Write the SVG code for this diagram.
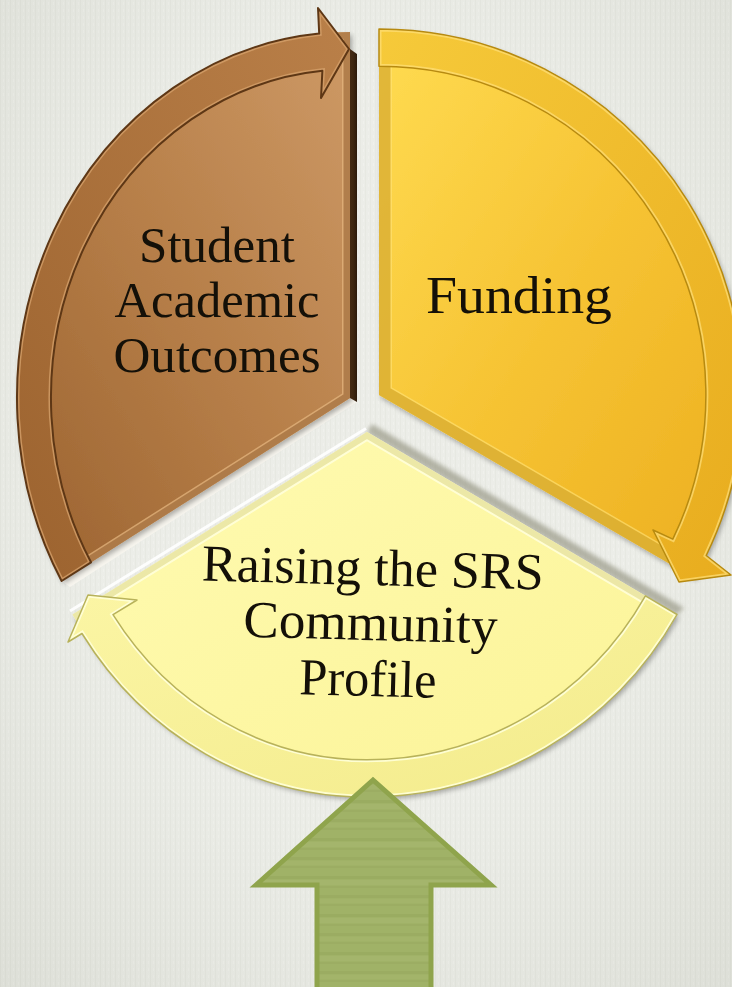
<svg xmlns="http://www.w3.org/2000/svg" width="732" height="987" viewBox="0 0 732 987">
<defs>
<style>
.lbl{font-family:"Liberation Serif","DejaVu Serif",serif;fill:#141008;text-anchor:middle}
.bandline{fill:none;stroke-linejoin:round}
</style>
<pattern id="bgTex" width="5" height="7" patternUnits="userSpaceOnUse">
<rect width="5" height="7" fill="#E7E9E2"/>
<rect x="0" width="1" height="7" fill="#E1E3DB"/>
<rect x="3" y="2" width="1" height="3" fill="#ECEDE7"/>
</pattern>
<radialGradient id="vig" cx="0.5" cy="0.45" r="0.75">
<stop offset="0.5" stop-color="#FFFFFF" stop-opacity="0.2"/>
<stop offset="1" stop-color="#B8BAB0" stop-opacity="0.22"/>
</radialGradient>
<pattern id="grTex" width="40" height="38" patternUnits="userSpaceOnUse">
<rect width="40" height="38" fill="#A0B267"/>
<rect y="2" width="40" height="3" fill="#8E9F56" opacity="0.35"/>
<rect y="12" width="40" height="2" fill="#8E9F56" opacity="0.25"/>
<rect y="21" width="40" height="3" fill="#8E9F56" opacity="0.3"/>
<rect y="30" width="40" height="2" fill="#8E9F56" opacity="0.25"/>
<rect y="6" width="40" height="5" fill="#B0C07A" opacity="0.25"/>
<rect y="25" width="40" height="4" fill="#B0C07A" opacity="0.2"/>
</pattern>
<linearGradient id="brBody" x1="1" y1="0" x2="0" y2="1">
<stop offset="0" stop-color="#CE9A66"/>
<stop offset="0.5" stop-color="#B67E48"/>
<stop offset="1" stop-color="#9A622F"/>
</linearGradient>
<linearGradient id="brBand" x1="1" y1="0" x2="0" y2="1">
<stop offset="0" stop-color="#BA8049"/>
<stop offset="1" stop-color="#9C632F"/>
</linearGradient>
<linearGradient id="brSide" x1="0" y1="0" x2="1" y2="0">
<stop offset="0" stop-color="#5A391B"/>
<stop offset="1" stop-color="#2B1A0B"/>
</linearGradient>
<linearGradient id="gdBody" x1="0" y1="0" x2="1" y2="1">
<stop offset="0" stop-color="#FFDC52"/>
<stop offset="0.5" stop-color="#F6C333"/>
<stop offset="1" stop-color="#ECAE1F"/>
</linearGradient>
<linearGradient id="gdBand" x1="0" y1="0" x2="1" y2="1">
<stop offset="0" stop-color="#F6CA3A"/>
<stop offset="1" stop-color="#E8AC1E"/>
</linearGradient>
<linearGradient id="ylBody" x1="0" y1="0" x2="1" y2="1">
<stop offset="0" stop-color="#FFFBB2"/>
<stop offset="1" stop-color="#FBF396"/>
</linearGradient>
<linearGradient id="ylBand" x1="0" y1="0" x2="1" y2="1">
<stop offset="0" stop-color="#FBF5A4"/>
<stop offset="1" stop-color="#F3EB8B"/>
</linearGradient>
<filter id="sh" x="-10%" y="-10%" width="125%" height="125%">
<feGaussianBlur in="SourceAlpha" stdDeviation="2.5"/>
<feOffset dx="2" dy="3"/>
<feComponentTransfer><feFuncA type="linear" slope="0.3"/></feComponentTransfer>
<feMerge><feMergeNode/><feMergeNode in="SourceGraphic"/></feMerge>
</filter>
<filter id="blur2" x="-10%" y="-10%" width="120%" height="120%"><feGaussianBlur stdDeviation="2"/></filter>
<clipPath id="cBr"><path d="M350 398 L350 32 A333 366 0 0 0 61.6 581 Z"/></clipPath>
<clipPath id="cGd"><path d="M379 395 L379 29 A364 366 0 0 1 694.2 578 Z"/></clipPath>
<clipPath id="cYl"><path d="M367 432 L677 614.5 A358 365 0 0 1 367 797 A340 365 0 0 1 72.6 614.5 Z"/></clipPath>
<clipPath id="cBrB"><path d="M61.6 581 A333 366 0 0 1 319.2 33.6 L318 8 L349 49 L321 98 L322.4 70.7 A299 328.7 0 0 0 91 562.3 Z"/></clipPath>
<clipPath id="cGdB"><path d="M379 29 A364 366 0 0 1 706.2 555.5 L731 575 L679 582 L653 530 L672.8 539.1 A326.9 328.7 0 0 0 379 66.3 Z"/></clipPath>
<clipPath id="cYlB"><path d="M677 614.5 A358 365 0 0 1 367 797 A340 365 0 0 1 82 633.5 L68 642 L88 595 L137 600 L113 614.7 A305.3 327.8 0 0 0 367 759.8 A321.5 327.8 0 0 0 645.4 595.9 Z"/></clipPath>
</defs>

<rect width="732" height="987" fill="url(#bgTex)"/>
<rect width="732" height="987" fill="url(#vig)"/>

<g id="segment-outcomes">
<polygon points="61.6,581 350,398 357,402 70,587" fill="#F7F5EE"/>
<polygon points="350,49 357,54 357,402 350,398" fill="url(#brSide)"/>
<path d="M350 398 L350 32 A333 366 0 0 0 61.6 581 Z" fill="url(#brBody)" filter="url(#sh)"/>
<g clip-path="url(#cBr)">
<path d="M350 398 L350 32 A333 366 0 0 0 61.6 581 Z" fill="none" stroke="#E3B47E" stroke-width="16" opacity="0.75"/>
<path d="M350 398 L350 32 A333 366 0 0 0 61.6 581 Z" fill="none" stroke="#8E5A2A" stroke-width="13" opacity="0.55"/>
</g>
<text class="lbl" font-size="50" x="217" y="262" textLength="156" lengthAdjust="spacingAndGlyphs">Student</text>
<text class="lbl" font-size="50" x="217" y="317" textLength="205" lengthAdjust="spacingAndGlyphs">Academic</text>
<text class="lbl" font-size="50" x="217" y="372" textLength="207" lengthAdjust="spacingAndGlyphs">Outcomes</text>
</g>

<g id="segment-funding">
<path d="M379 395 L379 29 A364 366 0 0 1 694.2 578 Z" fill="url(#gdBody)" filter="url(#sh)"/>
<g clip-path="url(#cGd)">
<path d="M379 395 L379 29 A364 366 0 0 1 694.2 578 Z" fill="none" stroke="#FFE27A" stroke-width="26" opacity="0.6"/>
<path d="M379 395 L379 29 A364 366 0 0 1 694.2 578 Z" fill="none" stroke="#C99612" stroke-width="23" opacity="0.55"/>
</g>
<text class="lbl" font-size="53" x="519" y="313" textLength="186" lengthAdjust="spacingAndGlyphs">Funding</text>
</g>

<g id="segment-profile">
<polygon points="372,424 684,608 677,614.5 367,432" fill="#9A9A88" opacity="0.7" filter="url(#blur2)"/>
<polyline points="70,611 366,428.5" fill="none" stroke="#FFFFFF" stroke-width="3" opacity="0.9"/>
<path d="M367 432 L677 614.5 A358 365 0 0 1 367 797 A340 365 0 0 1 72.6 614.5 Z" fill="url(#ylBody)" filter="url(#sh)"/>
<g clip-path="url(#cYl)">
<path d="M367 432 L677 614.5 A358 365 0 0 1 367 797 A340 365 0 0 1 72.6 614.5 Z" fill="none" stroke="#FFFFE0" stroke-width="16" opacity="0.8"/>
<path d="M367 432 L677 614.5 A358 365 0 0 1 367 797 A340 365 0 0 1 72.6 614.5 Z" fill="none" stroke="#D9D27A" stroke-width="12" opacity="0.5"/>
</g>
<g transform="rotate(1.5 370 640)">
<text class="lbl" font-size="52" x="371" y="585" textLength="342" lengthAdjust="spacingAndGlyphs">Raising the SRS</text>
<text class="lbl" font-size="52" x="370" y="640" textLength="254" lengthAdjust="spacingAndGlyphs">Community</text>
<text class="lbl" font-size="52" x="369" y="696" textLength="137" lengthAdjust="spacingAndGlyphs">Profile</text>
</g>
</g>

<g id="connectors">
<path d="M61.6 581 A333 366 0 0 1 319.2 33.6 L318 8 L349 49 L321 98 L322.4 70.7 A299 328.7 0 0 0 91 562.3 Z" fill="url(#brBand)"/>
<g clip-path="url(#cBrB)"><path d="M61.6 581 A333 366 0 0 1 319.2 33.6 L318 8 L349 49 L321 98 L322.4 70.7 A299 328.7 0 0 0 91 562.3 Z" fill="none" stroke="#D4A06A" stroke-width="5" opacity="0.8"/></g>
<path class="bandline" d="M61.6 581 A333 366 0 0 1 319.2 33.6 L318 8 L349 49 L321 98 L322.4 70.7 A299 328.7 0 0 0 91 562.3 Z" stroke="#5E3715" stroke-width="2"/>

<path d="M379 29 A364 366 0 0 1 706.2 555.5 L731 575 L679 582 L653 530 L672.8 539.1 A326.9 328.7 0 0 0 379 66.3 Z" fill="url(#gdBand)"/>
<g clip-path="url(#cGdB)"><path d="M379 29 A364 366 0 0 1 706.2 555.5 L731 575 L679 582 L653 530 L672.8 539.1 A326.9 328.7 0 0 0 379 66.3 Z" fill="none" stroke="#FFE07A" stroke-width="5" opacity="0.7"/></g>
<path class="bandline" d="M379 29 A364 366 0 0 1 706.2 555.5 L731 575 L679 582 L653 530 L672.8 539.1 A326.9 328.7 0 0 0 379 66.3 Z" stroke="#B78A10" stroke-width="1.5"/>

<path d="M677 614.5 A358 365 0 0 1 367 797 A340 365 0 0 1 82 633.5 L68 642 L88 595 L137 600 L113 614.7 A305.3 327.8 0 0 0 367 759.8 A321.5 327.8 0 0 0 645.4 595.9 Z" fill="url(#ylBand)"/>
<g clip-path="url(#cYlB)"><path d="M677 614.5 A358 365 0 0 1 367 797 A340 365 0 0 1 82 633.5 L68 642 L88 595 L137 600 L113 614.7 A305.3 327.8 0 0 0 367 759.8 A321.5 327.8 0 0 0 645.4 595.9 Z" fill="none" stroke="#FFFFD8" stroke-width="5" opacity="0.9"/></g>
<path class="bandline" d="M677 614.5 A358 365 0 0 1 367 797 A340 365 0 0 1 82 633.5 L68 642 L88 595 L137 600 L113 614.7 A305.3 327.8 0 0 0 367 759.8 A321.5 327.8 0 0 0 645.4 595.9 Z" stroke="#B8B25A" stroke-width="1.5"/>
</g>

<g id="input-arrow">
<polygon points="373,780 491,885 431,885 431,992 317,992 317,885 256,885" fill="url(#grTex)" stroke="#8FA44C" stroke-width="5" stroke-linejoin="miter"/>
</g>
</svg>
